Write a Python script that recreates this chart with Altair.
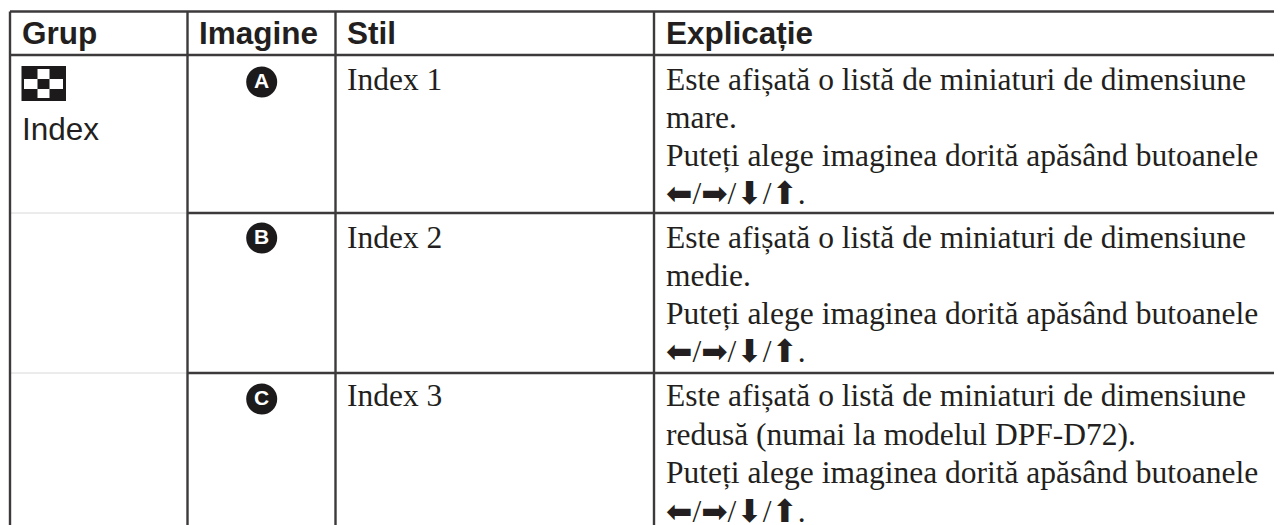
import altair as alt
import pandas as pd

INK = "#231f20"
LINE = "#3c3a3b"
SERIF = "Liberation Serif, DejaVu Sans"
SANS = "Liberation Sans"

# Content
headers = ["Grup", "Imagine", "Stil", "Explicație"]
group_label = "Index"
badges = ["A", "B", "C"]
styles = ["Index 1", "Index 2", "Index 3"]
explain = [
    ["Este afișată o listă de miniaturi de dimensiune", "mare.",
     "Puteți alege imaginea dorită apăsând butoanele", "⬅/➡/⬇/⬆."],
    ["Este afișată o listă de miniaturi de dimensiune", "medie.",
     "Puteți alege imaginea dorită apăsând butoanele", "⬅/➡/⬇/⬆."],
    ["Este afișată o listă de miniaturi de dimensiune", "redusă (numai la modelul DPF-D72).",
     "Puteți alege imaginea dorită apăsând butoanele", "⬅/➡/⬇/⬆."],
]

# Table geometry, in picture units
col_lines = [10, 187.5, 335.5, 654]
head_top, head_bottom = 11.5, 55
row_lines = [213, 373]
page_right, page_bottom = 1274, 525
header_x = [22, 199, 347, 666]
header_base = 44
badge_x = 261.7
badge_y = [82, 238, 399]
style_base = [90, 248, 406]
text_base = [[90, 128, 166, 204], [248, 286, 324, 362], [406, 445, 483, 522]]

x_s = alt.Scale(domain=[8, page_right], nice=False, zero=False)
y_s = alt.Scale(domain=[page_bottom, 8], nice=False, zero=False)
X = alt.X("x:Q", scale=x_s, axis=None)
Y = alt.Y("y:Q", scale=y_s, axis=None)

rules = pd.DataFrame(
    [dict(x=c, x2=c, y=head_top, y2=page_bottom) for c in col_lines]
    + [dict(x=col_lines[0], x2=page_right, y=head_top, y2=head_top),
       dict(x=col_lines[0], x2=page_right, y=head_bottom, y2=head_bottom)]
    + [dict(x=col_lines[1], x2=page_right, y=r, y2=r) for r in row_lines]
)
rule_layer = alt.Chart(rules).mark_rule(color=LINE, strokeWidth=2.4).encode(
    x=X, y=Y, x2="x2:Q", y2="y2:Q")

faint = pd.DataFrame([dict(x=col_lines[0], x2=col_lines[1], y=r, y2=r) for r in row_lines])
faint_layer = alt.Chart(faint).mark_rule(color="#d8d8d8", strokeWidth=1).encode(
    x=X, y=Y, x2="x2:Q", y2="y2:Q")

hdr = pd.DataFrame(dict(x=header_x, y=[header_base] * 4, t=headers))
hdr_layer = alt.Chart(hdr).mark_text(
    align="left", baseline="alphabetic", font=SANS, fontWeight="bold",
    fontSize=31.5, color=INK).encode(x=X, y=Y, text="t:N")

grp = pd.DataFrame(dict(x=[22], y=[140], t=[group_label]))
grp_layer = alt.Chart(grp).mark_text(
    align="left", baseline="alphabetic", font=SANS, fontSize=31.5, color=INK
).encode(x=X, y=Y, text="t:N")

sty = pd.DataFrame(dict(x=[347] * 3, y=style_base, t=styles))
body_rows = [dict(x=666, y=text_base[r][l], t=explain[r][l])
             for r in range(3) for l in range(4)]
body = pd.concat([sty, pd.DataFrame(body_rows)], ignore_index=True)
body_layer = alt.Chart(body).mark_text(
    align="left", baseline="alphabetic", font=SERIF, fontSize=31.5, color=INK
).encode(x=X, y=Y, text="t:N")

bad = pd.DataFrame(dict(x=[badge_x] * 3, y=badge_y, t=badges))
dot_layer = alt.Chart(bad).mark_point(
    filled=True, shape="circle", size=961, color="#1d1a1b", opacity=1
).encode(x=X, y=Y)
letter_layer = alt.Chart(bad).mark_text(
    align="center", baseline="middle", font=SANS, fontWeight="bold",
    fontSize=21, color="white"
).encode(x=X, y=Y, text="t:N")

# Checkerboard icon
icon_bg = pd.DataFrame(dict(x=[21.5], x2=[66], y=[66], y2=[101]))
icon_white = pd.DataFrame(dict(
    x=[37.5, 24, 49.5, 37.5], x2=[49.5, 37.5, 63, 49.5],
    y=[69, 79, 79, 89], y2=[79, 89, 89, 98]))
bg_layer = alt.Chart(icon_bg).mark_rect(color="#1d1a1b").encode(x=X, y=Y, x2="x2:Q", y2="y2:Q")
white_layer = alt.Chart(icon_white).mark_rect(color="white").encode(x=X, y=Y, x2="x2:Q", y2="y2:Q")

chart = alt.layer(
    faint_layer, rule_layer, bg_layer, white_layer, dot_layer, letter_layer,
    hdr_layer, grp_layer, body_layer
).properties(width=1266, height=517, padding=0, background="white",
             autosize=alt.AutoSizeParams(type="none")
).configure_view(stroke=None)

chart.save("out.html", embed_options={"renderer": "svg", "actions": False})
